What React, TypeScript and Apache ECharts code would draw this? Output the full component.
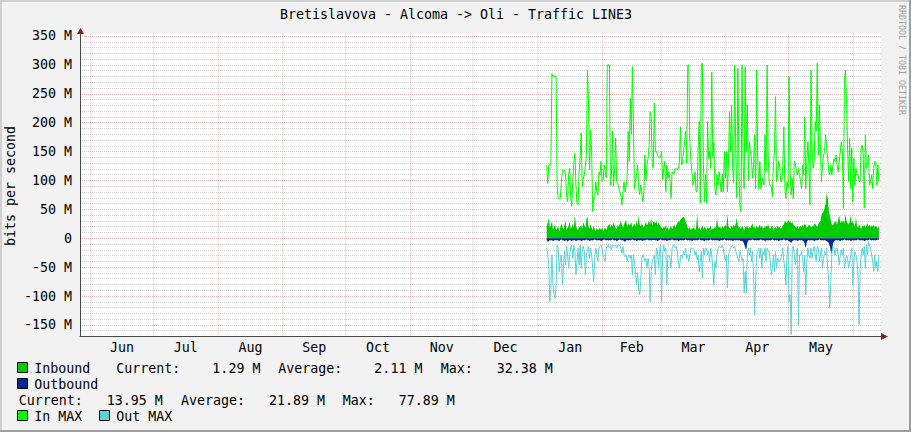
import React, { useEffect, useRef } from 'react';
import * as echarts from 'echarts';

const FONT = "'DejaVu Sans Mono', monospace";
const TITLE = 'Bretislavova - Alcoma -> Oli - Traffic LINE3';
const Y_NAME = 'bits per second';
const WATERMARK = 'RRDTOOL / TOBI OETIKER';

const monthLabels = ['Jun', 'Jul', 'Aug', 'Sep', 'Oct', 'Nov', 'Dec', 'Jan', 'Feb', 'Mar', 'Apr', 'May'];
const monthStarts = [
  Date.UTC(2012, 5, 1), Date.UTC(2012, 6, 1), Date.UTC(2012, 7, 1), Date.UTC(2012, 8, 1),
  Date.UTC(2012, 9, 1), Date.UTC(2012, 10, 1), Date.UTC(2012, 11, 1), Date.UTC(2013, 0, 1),
  Date.UTC(2013, 1, 1), Date.UTC(2013, 2, 1), Date.UTC(2013, 3, 1), Date.UTC(2013, 4, 1),
  Date.UTC(2013, 5, 1),
];
const yLabelValues = [-150, -100, -50, 0, 50, 100, 150, 200, 250, 300, 350];

const xStart = Date.UTC(2012, 4, 26, 21);
const xEnd = Date.UTC(2013, 5, 14, 6);
const yMin = -170;
const yMax = 354.3;

// samples every 12 hours starting 5 Jan 2013
const sampleStart = Date.UTC(2013, 0, 5, 6);
const sampleStepMs = 12 * 3600 * 1000;

// In MAX (M bits/s)
const inMax = [
  127, 95, 127, 127, 127, 285, 280, 280, 280, 280,
  89, 69, 69, 69, 95, 118, 118, 118, 110, 75,
  63, 110, 121, 70, 55, 101, 130, 147, 90, 60,
  58, 115, 140, 182, 89, 104, 110, 125, 144, 291,
  240, 118, 187, 150, 46, 70, 69, 98, 80, 75,
  115, 110, 133, 98, 100, 127, 115, 105, 300, 300,
  300, 92, 110, 185, 90, 120, 173, 98, 95, 86,
  80, 75, 58, 80, 98, 80, 90, 105, 185, 133,
  242, 180, 297, 200, 86, 100, 109, 127, 90, 75,
  92, 80, 63, 80, 144, 100, 127, 138, 160, 219,
  210, 130, 121,
  234, 150, 150, 145, 140, 140, 140, 150, 101, 120,
  133, 81, 127, 104, 115, 100, 69, 115, 112, 112,
  120, 121, 118, 121, 130, 193, 127, 130, 150, 167,
  185, 130, 300, 300, 167, 133, 115, 92, 100, 115,
  81, 81, 160, 202, 61, 300, 303, 127, 63, 110,
  61, 202, 138, 150, 121, 288, 140, 167, 86, 75,
  110, 92, 115, 100, 80, 112, 80, 150, 104, 150,
  80, 130, 219, 150, 231, 120, 95, 300, 144, 70,
  294, 121, 52, 46, 300, 127, 86, 297, 150, 231,
  100, 167, 150, 138, 104, 127, 179, 86, 291, 133,
  86, 133, 86, 98, 104, 92, 179, 115, 300, 144,
  95, 92, 89, 72, 127, 150, 245, 98, 110, 133,
  127, 98, 98, 125, 193, 86, 69, 98, 86, 280,
  115, 75, 104, 69, 133, 130, 115, 110, 121, 110,
  98, 86, 127, 110, 210, 86, 133, 167, 127, 58,
  291, 161, 121, 133, 202, 185, 303, 144, 231, 156,
  98, 127, 144, 150, 179, 156, 138, 115, 110, 127,
  110, 127, 138, 133, 144, 127, 115, 133, 150, 167,
  150, 52, 274, 291, 237, 156, 98, 173, 86, 156,
  63, 138, 92, 121, 110, 110, 98, 98, 156, 161,
  144, 52, 179, 121, 127, 144, 92, 98, 110, 86,
  121, 133, 133, 92, 127, 98,
];

// Out MAX (negative side)
const outMax = [
  -17, -29, -46, -110, -86, -29, -81, -98, -104, -81,
  -12, -17, -58, -35, -29, -81, -52, -23, -46, -14,
  -29, -52, -29, -17, -12, -35, -12, -23, -63, -40,
  -17, -46, -12, -52, -17, -14, -23, -63, -29, -23,
  -14, -35, -17, -29, -52, -75, -35, -17, -29, -40,
  -17, -14, -12, -17, -29, -35, -40, -17, -14, -12,
  -17, -14, -20, -12, -12, -14, -12, -17, -12, -14,
  -12, -17, -26, -14, -29, -32, -29, -40, -32, -29,
  -35, -29, -63, -29, -40, -63, -81, -60, -86, -98,
  -75, -35, -29, -32, -40, -35, -52, -35, -46, -110,
  -58, -40, -35,
  -29, -63, -17, -23, -52, -23, -12, -110, -29, -12,
  -23, -17, -81, -29, -29, -35, -52, -17, -12, -12,
  -17, -14, -23, -40, -52, -35, -29, -35, -23, -29,
  -17, -35, -29, -40, -29, -17, -17, -17, -20, -29,
  -23, -37, -29, -58, -40, -23, -69, -17, -29, -17,
  -17, -29, -23, -40, -17, -29, -52, -81, -40, -52,
  -29, -17, -14, -14, -17, -12, -17, -29, -40, -29,
  -86, -29, -23, -17, -14, -12, -17, -14, -23, -29,
  -35, -40, -23, -29, -40, -35, -95, -58, -95, -29,
  -17, -29, -17, -40, -23, -58, -133, -75, -29, -23,
  -17, -35, -17, -52, -23, -29, -17, -40, -17, -23,
  -23, -40, -63, -52, -29, -58, -23, -52, -35, -40,
  -40, -35, -29, -17, -40, -52, -81, -29, -14, -110,
  -98, -167, -17, -14, -29, -46, -23, -17, -150, -29,
  -29, -23, -35, -58, -29, -98, -40, -17, -29, -35,
  -17, -35, -23, -14, -29, -40, -14, -17, -40, -29,
  -17, -52, -35, -23, -29, -17, -52, -75, -121, -75,
  -23, -14, -17, -29, -17, -17, -29, -46, -29, -20,
  -29, -17, -52, -40, -29, -35, -52, -40, -29, -17,
  -81, -40, -23, -29, -40, -63, -149, -52, -29, -17,
  -29, -14, -52, -12, -29, -6, -12, -17, -29, -40,
  -58, -29, -52, -40, -58, -29,
];

// Inbound area
const inbound = [
  20, 28, 35, 18, 22, 30, 15, 18, 25, 14,
  16, 22, 12, 18, 26, 20, 15, 24, 30, 14,
  18, 22, 28, 16, 20, 25, 18, 41, 22, 16,
  14, 20, 18, 24, 16, 28, 22, 18, 34, 37,
  20, 16, 24, 18, 14, 22, 16, 12, 18, 14,
  16, 18, 14, 20, 12, 16, 18, 14, 20, 22,
  26, 18, 24, 20, 28, 22, 18, 16, 24, 20,
  26, 30, 22, 18, 24, 28, 32, 20, 26, 22,
  24, 28, 18, 22, 26, 20, 30, 22, 40, 24,
  20, 26, 22, 18, 24, 28, 22, 26, 30, 24,
  35, 22, 28,
  28, 26, 30, 22, 28, 24, 20, 18, 16, 20,
  18, 22, 16, 20, 14, 18, 22, 16, 20, 24,
  18, 22, 26, 30, 28, 32, 34, 36, 37, 35,
  30, 24, 18, 16, 20, 14, 18, 16, 20, 14,
  18, 43, 16, 20, 14, 18, 22, 16, 20, 18,
  14, 20, 16, 18, 22, 14, 18, 16, 20, 18,
  35, 22, 18, 20, 16, 22, 18, 20, 24, 18,
  43, 20, 18, 16, 22, 18, 24, 20, 26, 35,
  22, 18, 20, 16, 22, 18, 14, 20, 18, 22,
  16, 20, 18, 22, 26, 18, 20, 16, 22, 18,
  20, 24, 18, 22, 16, 20, 18, 22, 20, 24,
  18, 16, 20, 22, 14, 18, 20, 16, 22, 18,
  20, 16, 18, 22, 24, 30, 28, 26, 32, 28,
  30, 26, 28, 24, 22, 20, 18, 22, 16, 20,
  22, 18, 24, 20, 26, 22, 18, 20, 24, 22,
  18, 22, 20, 24, 26, 22, 20, 24, 28, 30,
  40, 44, 46, 52, 60, 78, 70, 48, 40, 30,
  24, 22, 26, 30, 28, 24, 32, 40, 26, 30,
  28, 30, 26, 41, 30, 26, 24, 28, 40, 26,
  30, 24, 20, 37, 22, 18, 24, 20, 16, 22,
  20, 24, 18, 22, 26, 20, 24, 18, 22, 20,
  24, 18, 22, 20, 16, 22,
];

// Outbound area (negative side)
const outbound = [
  -4, -6, -5, -3, -4, -3, -5, -4, -3, -4,
  -3, -4, -5, -3, -2, -4, -3, -5, -4, -3,
  -6, -4, -3, -4, -5, -3, -4, -3, -5, -4,
  -3, -4, -3, -5, -4, -3, -4, -3, -2, -4,
  -3, -5, -4, -3, -4, -3, -2, -3, -4, -3,
  -4, -3, -5, -4, -3, -2, -3, -4, -3, -4,
  -3, -4, -3, -2, -3, -4, -3, -5, -4, -3,
  -2, -3, -4, -3, -5, -6, -4, -3, -4, -3,
  -4, -3, -2, -3, -4, -3, -5, -4, -3, -4,
  -3, -4, -5, -3, -4, -3, -2, -3, -4, -3,
  -4, -3, -3,
  -3, -4, -3, -5, -4, -3, -2, -3, -4, -3,
  -4, -3, -5, -4, -3, -4, -3, -2, -3, -4,
  -3, -4, -3, -5, -4, -3, -4, -3, -4, -3,
  -2, -3, -4, -3, -4, -3, -5, -4, -3, -4,
  -3, -4, -3, -2, -3, -4, -3, -4, -5, -3,
  -4, -3, -4, -3, -2, -3, -4, -3, -4, -3,
  -4, -3, -5, -4, -3, -4, -3, -2, -3, -4,
  -3, -4, -3, -4, -3, -5, -4, -3, -4, -3,
  -4, -3, -4, -5, -4, -6, -10, -16, -20, -8,
  -4, -3, -4, -3, -2, -3, -4, -3, -4, -3,
  -4, -3, -2, -3, -4, -3, -5, -4, -3, -4,
  -3, -4, -3, -2, -3, -4, -3, -4, -3, -5,
  -4, -3, -4, -3, -2, -3, -4, -3, -4, -5,
  -6, -8, -5, -4, -3, -4, -3, -5, -4, -3,
  -4, -3, -4, -5, -10, -17, -6, -4, -3, -4,
  -3, -4, -3, -5, -4, -3, -4, -3, -2, -3,
  -4, -3, -4, -3, -4, -5, -6, -8, -14, -22,
  -27, -10, -5, -4, -3, -4, -3, -4, -5, -3,
  -4, -3, -2, -3, -4, -3, -4, -3, -5, -4,
  -3, -4, -3, -4, -3, -2, -3, -4, -3, -4,
  -3, -5, -4, -3, -4, -3, -2, -3, -4, -3,
  -4, -3, -4, -3, -2, -3,
];

const inboundStats = ['Current:    1.29 M', 'Average:    2.11 M', 'Max:   32.38 M'];
const outboundStats = ['Current:   13.95 M', 'Average:   21.89 M', 'Max:   77.89 M'];

const C_IN_AREA = '#00CC00';
const C_OUT_AREA = '#002A97';
const C_IN_MAX = '#00FF00';
const C_OUT_MAX = '#55D5D8';
const C_MINOR = 'rgba(143,143,143,0.38)';
const C_MAJOR = 'rgba(222,79,79,0.42)';
const C_ARROW = '#801F1F';
const C_AXIS = '#474747';

const toPairs = (vals: number[]) => vals.map((v, i) => [sampleStart + i * sampleStepMs, v]);

function txt(text: string, x: number, y: number, extra: any = {}) {
  return {
    type: 'text',
    x,
    y,
    silent: true,
    rotation: extra.rotation || 0,
    style: {
      text,
      fill: extra.fill || '#000',
      fontFamily: FONT,
      fontSize: extra.fontSize || 13.3,
      align: extra.align || 'left',
      textAlign: extra.align || 'left',
      verticalAlign: 'middle',
      textVerticalAlign: 'middle',
    },
  };
}

function box(x: number, y: number, color: string) {
  return {
    type: 'rect',
    silent: true,
    shape: { x, y, width: 10, height: 10 },
    style: { fill: color, stroke: '#000', lineWidth: 1 },
  };
}

export default function App() {
  const ref = useRef<HTMLDivElement>(null);

  useEffect(() => {
    document.body.style.margin = '0';
    if (!ref.current) return;
    const chart = echarts.init(ref.current, undefined, { renderer: 'svg' });

    const midMonths = monthLabels.map((_, i) => (monthStarts[i] + monthStarts[i + 1]) / 2);

    const gridV: any[] = [];
    monthStarts.forEach((t) => {
      gridV.push([t, yMin]);
      gridV.push([t, yMax]);
      gridV.push([t, null]);
    });

    const option: any = {
      animation: false,
      backgroundColor: '#F2F2F2',
      textStyle: { fontFamily: FONT },
      grid: {
        left: 80,
        top: 33.5,
        width: 801,
        height: 303,
        show: true,
        backgroundColor: '#FFFFFF',
        borderWidth: 0,
        containLabel: false,
        outerBoundsMode: 'none',
      },
      xAxis: {
        type: 'value',
        min: xStart,
        max: xEnd,
        axisLine: { show: true, onZero: false, lineStyle: { color: C_AXIS, width: 1 } },
        axisTick: { show: false },
        splitLine: { show: false },
        axisLabel: {
          customValues: midMonths,
          margin: 4,
          fontSize: 13.3,
          fontFamily: FONT,
          color: '#000',
          formatter: (v: number) => {
            let best = 0;
            midMonths.forEach((m, i) => {
              if (Math.abs(m - v) < Math.abs(midMonths[best] - v)) best = i;
            });
            return monthLabels[best];
          },
        },
      },
      yAxis: {
        type: 'value',
        min: yMin,
        max: yMax,
        interval: 10,
        axisLine: { show: true, lineStyle: { color: C_AXIS, width: 1 } },
        axisTick: { show: false },
        axisLabel: {
          customValues: yLabelValues,
          margin: 8,
          fontSize: 13.3,
          fontFamily: FONT,
          color: '#000',
          formatter: (v: number) => (v === 0 ? '0' : `${v} M`),
        },
        splitLine: {
          show: true,
          showMaxLine: false,
          lineStyle: { color: [C_MINOR, C_MINOR, C_MAJOR, C_MINOR, C_MINOR], type: [1, 1], width: 1 },
        },
      },
      series: [
        {
          name: 'gridV',
          type: 'line',
          z: 1,
          silent: true,
          symbol: 'none',
          connectNulls: false,
          data: gridV,
          lineStyle: { color: C_MAJOR, width: 1, type: [1, 1] },
        },
        {
          name: 'Inbound',
          type: 'line',
          z: 2,
          silent: true,
          symbol: 'none',
          data: toPairs(inbound),
          lineStyle: { width: 0 },
          areaStyle: { color: C_IN_AREA, opacity: 1 },
        },
        {
          name: 'Outbound',
          type: 'line',
          z: 2,
          silent: true,
          symbol: 'none',
          data: toPairs(outbound),
          lineStyle: { width: 0 },
          areaStyle: { color: C_OUT_AREA, opacity: 1 },
        },
        {
          name: 'In MAX',
          type: 'line',
          z: 3,
          silent: true,
          symbol: 'none',
          data: toPairs(inMax),
          lineStyle: { color: C_IN_MAX, width: 1 },
        },
        {
          name: 'Out MAX',
          type: 'line',
          z: 3,
          silent: true,
          symbol: 'none',
          data: toPairs(outMax),
          lineStyle: { color: C_OUT_MAX, width: 1 },
        },
      ],
      graphic: {
        elements: [
          // 3D frame
          { type: 'rect', silent: true, shape: { x: 0, y: 0, width: 911, height: 2 }, style: { fill: '#CFCFCF' } },
          { type: 'rect', silent: true, shape: { x: 0, y: 0, width: 2, height: 432 }, style: { fill: '#CFCFCF' } },
          { type: 'rect', silent: true, shape: { x: 0, y: 430, width: 911, height: 2 }, style: { fill: '#9E9E9E' } },
          { type: 'rect', silent: true, shape: { x: 909, y: 0, width: 2, height: 432 }, style: { fill: '#9E9E9E' } },
          // arrows
          { type: 'polygon', silent: true, shape: { points: [[77, 34], [80.5, 28], [84, 34]] }, style: { fill: C_ARROW } },
          { type: 'polygon', silent: true, shape: { points: [[881, 333], [888, 336.5], [881, 340]] }, style: { fill: C_ARROW } },
          // title and axis name
          txt(TITLE, 456, 14, { align: 'center' }),
          txt(Y_NAME, 10, 186, { align: 'center', rotation: Math.PI / 2 }),
          txt(WATERMARK, 902, 60, { align: 'center', rotation: -Math.PI / 2, fontSize: 8.3, fill: '#A0A0A0' }),
          // legend
          box(17.5, 362.5, C_IN_AREA),
          txt('Inbound', 34.3, 368),
          txt(inboundStats[0], 116.3, 368),
          txt(inboundStats[1], 278.3, 368),
          txt(inboundStats[2], 440.7, 368),
          box(17.5, 378.5, C_OUT_AREA),
          txt('Outbound', 34.3, 384),
          txt(outboundStats[0], 18.7, 400),
          txt(outboundStats[1], 181, 400),
          txt(outboundStats[2], 342.7, 400),
          box(17.5, 410.5, C_IN_MAX),
          txt('In MAX', 34.3, 416.5),
          box(99.5, 410.5, C_OUT_MAX),
          txt('Out MAX', 116.3, 416.5),
        ],
      },
    };

    chart.setOption(option);
    return () => chart.dispose();
  }, []);

  return <div ref={ref} style={{ width: 911, height: 432, position: 'absolute', left: 0, top: 0 }} />;
}
